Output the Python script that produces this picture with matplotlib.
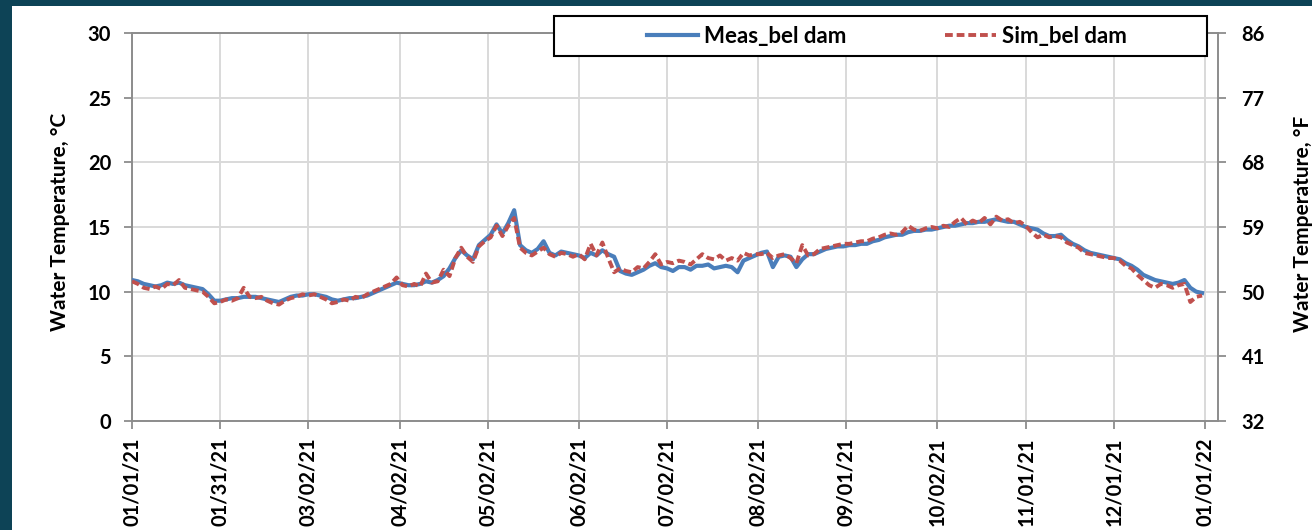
import pandas as pd
import matplotlib
matplotlib.use('Agg')
import matplotlib.pyplot as plt
from matplotlib.patches import Rectangle

plt.rcParams['font.family'] = ['Lato', 'DejaVu Sans']
plt.rcParams['font.weight'] = 'bold'

# water temperature below the dam, deg C, one reading every 2 days from 01/01/21
meas_bel_dam = [
    10.9, 10.8, 10.6, 10.5, 10.4, 10.5, 10.7, 10.6, 10.7, 10.5, 10.4, 10.3, 10.2, 9.8, 9.3,
    9.3, 9.4, 9.5, 9.5, 9.6, 9.6, 9.6, 9.5, 9.4, 9.3, 9.2, 9.4, 9.6, 9.7, 9.7,
    9.8, 9.8, 9.7, 9.6, 9.4, 9.3, 9.4, 9.5, 9.5, 9.6, 9.7, 9.9, 10.1, 10.3, 10.5,
    10.7, 10.6, 10.5, 10.5, 10.6, 10.8, 10.7, 10.9, 11.2, 11.8, 12.6, 13.2, 12.8, 12.5, 13.6,
    14.0, 14.4, 15.2, 14.5, 15.3, 16.3, 13.6, 13.2, 13.0, 13.3, 13.9, 13.0, 12.8, 13.1, 13.0,
    12.9, 12.8, 12.6, 13.0, 12.8, 13.2, 12.9, 12.7, 11.6, 11.4, 11.3, 11.5, 11.7, 12.0, 12.2,
    11.9, 11.8, 11.6, 11.9, 11.9, 11.7, 12.0, 12.0, 12.1, 11.8, 11.9, 12.0, 11.9, 11.5, 12.4,
    12.6, 12.8, 13.0, 13.1, 11.9, 12.7, 12.8, 12.7, 11.9, 12.5, 12.9, 12.9, 13.1, 13.3, 13.4,
    13.5, 13.5, 13.6, 13.6, 13.7, 13.7, 13.9, 14.0, 14.2, 14.3, 14.4, 14.4, 14.6, 14.7, 14.7,
    14.8, 14.8, 14.9, 15.0, 15.1, 15.1, 15.2, 15.3, 15.3, 15.4, 15.4, 15.5, 15.6, 15.5, 15.4,
    15.4, 15.2, 15.0, 14.9, 14.8, 14.5, 14.3, 14.3, 14.4, 14.0, 13.7, 13.5, 13.2, 13.0, 12.9,
    12.8, 12.7, 12.6, 12.5, 12.2, 12.0, 11.7, 11.3, 11.1, 10.9, 10.8, 10.7, 10.6, 10.7, 10.9,
    10.3, 10.0, 9.9,
]
sim_bel_dam = [
    10.8, 10.6, 10.3, 10.2, 10.4, 10.2, 10.6, 10.5, 10.9, 10.3, 10.2, 10.1, 10.0, 9.6, 9.1,
    9.2, 9.4, 9.3, 9.5, 10.3, 9.6, 9.5, 9.6, 9.3, 9.1, 9.0, 9.3, 9.5, 9.6, 9.8,
    9.7, 9.8, 9.6, 9.4, 9.1, 9.2, 9.4, 9.3, 9.6, 9.5, 9.8, 10.0, 10.2, 10.4, 10.6,
    11.1, 10.5, 10.4, 10.6, 10.4, 11.4, 10.7, 10.8, 11.7, 11.2, 12.6, 13.4, 12.7, 12.3, 13.5,
    13.9, 14.2, 15.1, 14.3, 15.1, 15.7, 13.4, 13.0, 12.8, 13.1, 13.4, 12.9, 12.7, 13.0, 12.9,
    12.7, 12.9, 12.5, 13.7, 12.8, 13.8, 12.6, 11.5, 11.8, 11.6, 11.5, 11.9, 11.8, 12.3, 12.9,
    12.1, 12.3, 12.2, 12.4, 12.3, 12.1, 12.5, 12.9, 12.6, 12.5, 12.8, 12.4, 12.6, 12.4, 13.0,
    12.8, 12.9, 12.9, 13.0, 12.6, 12.8, 12.9, 12.6, 12.2, 13.6, 12.8, 12.9, 13.3, 13.4, 13.5,
    13.6, 13.7, 13.7, 13.8, 13.9, 13.9, 14.1, 14.2, 14.4, 14.5, 14.4, 14.6, 15.1, 14.8, 14.7,
    14.9, 15.0, 14.9, 15.1, 15.0, 15.4, 15.7, 15.2, 15.5, 15.3, 15.7, 15.2, 15.8, 15.5, 15.6,
    15.3, 15.4, 15.1, 14.6, 14.2, 14.4, 14.2, 14.3, 14.2, 13.8, 13.6, 13.4, 13.0, 12.9, 12.8,
    12.7, 12.6, 12.6, 12.4, 12.0, 11.8, 11.3, 10.9, 10.5, 10.3, 10.6, 10.5, 10.3, 10.5, 10.6,
    9.2, 9.6, 9.7,
]
date_labels = ['01/01/21', '01/31/21', '03/02/21', '04/02/21', '05/02/21', '06/02/21',
               '07/02/21', '08/02/21', '09/01/21', '10/02/21', '11/01/21', '12/01/21',
               '01/01/22']
c_ticks = [0, 5, 10, 15, 20, 25, 30]
f_ticks = [32, 41, 50, 59, 68, 77, 86]

dates = pd.date_range('2021-01-01', periods=len(meas_bel_dam), freq='2D')
tick_dates = pd.to_datetime(date_labels, format='%m/%d/%y')

W, H = 1312, 530
fig = plt.figure(figsize=(W / 100, H / 100), dpi=100)
fig.patch.set_facecolor('#0d4356')
fig.add_artist(Rectangle((12 / W, 0), 1, 524 / H, transform=fig.transFigure,
                         facecolor='white', edgecolor='none', zorder=-1))

ax = fig.add_axes([132 / W, 1 - 421 / H, (1218 - 132) / W, (421 - 33) / H])
ax.plot(dates, meas_bel_dam, color='#4a7ebb', lw=3.0, label='Meas_bel dam', zorder=3)
ax.plot(dates, sim_bel_dam, color='#c0504d', lw=2.8, ls=(0, (2.0, 1.0)),
        label='Sim_bel dam', zorder=4)

ax.set_xlim(pd.Timestamp('2021-01-01'), pd.Timestamp('2022-01-05 10:00'))
ax.set_ylim(0, 30)
ax.set_yticks(c_ticks)
ax.set_xticks(tick_dates)
ax.set_xticklabels(date_labels, rotation=90)
ax.grid(color='#d9d9d9', lw=1.4)
ax.set_axisbelow(True)

spine_col = '#8c8c8c'
for s in ax.spines.values():
    s.set_color(spine_col)
    s.set_linewidth(1.4)
ax.tick_params(axis='y', length=6, width=1.3, color=spine_col, labelsize=14.5, pad=9)
ax.tick_params(axis='x', length=6, width=1.3, color=spine_col, labelsize=14.5, pad=6)

# Fahrenheit scale on the right
ax2 = ax.twinx()
ax2.set_ylim(32, 86)
ax2.set_yticks(f_ticks)
ax2.tick_params(axis='y', length=6, width=1.3, color=spine_col, labelsize=14.5, pad=11)
for s in ax2.spines.values():
    s.set_visible(False)

fig.text(60 / W, 1 - 222 / H, 'Water Temperature, \u00b0C', rotation=90,
         ha='center', va='center', fontsize=15)
fig.text(1303 / W, 1 - 224 / H, 'Water Temperature, \u00b0F', rotation=90,
         ha='center', va='center', fontsize=15)

# boxed legend sitting over the top of the plot
fig.add_artist(Rectangle((554 / W, 1 - 56 / H), 653 / W, 40 / H, transform=fig.transFigure,
                         facecolor='white', edgecolor='black', lw=1.5, zorder=4))
h, l = ax.get_legend_handles_labels()
leg = fig.legend(h, l, loc='center', bbox_to_anchor=(887 / W, 1 - 36 / H), ncol=2,
                 frameon=False, fontsize=16, handlelength=2.3, handletextpad=0.3,
                 columnspacing=4.4)
leg.set_zorder(5)

fig.savefig('out.png', dpi=100, facecolor=fig.get_facecolor())
